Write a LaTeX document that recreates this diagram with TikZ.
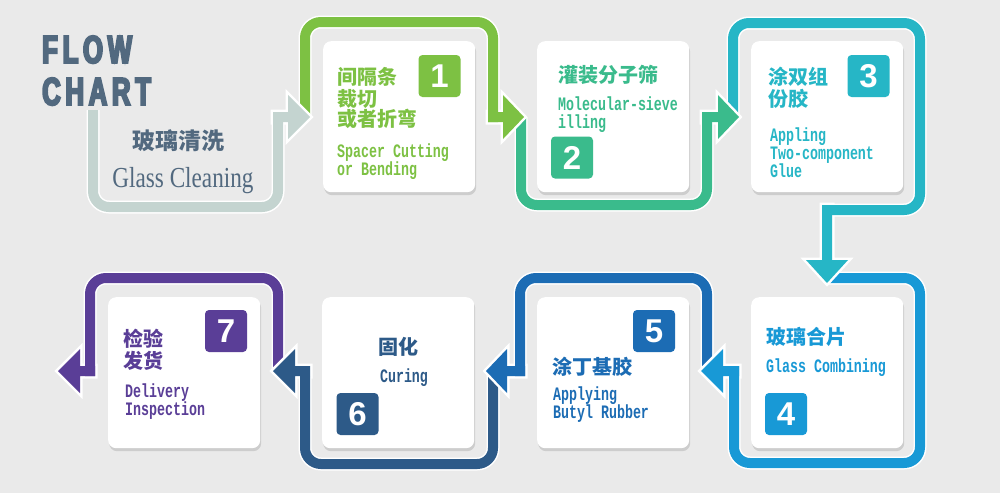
\documentclass[tikz,border=0pt]{standalone}
\usepackage{fontspec}
\setmainfont{Liberation Serif}
\newfontfamily\cjk{Noto Sans CJK SC}
\newfontfamily\monof{Liberation Mono Bold}[FakeStretch=0.7]
\newfontfamily\titlef{Liberation Sans Bold}[FakeStretch=0.66,FakeBold=5,LetterSpace=12]
\newfontfamily\gcf{Liberation Serif}[FakeStretch=0.8]
\newfontfamily\numf{Liberation Sans Bold}
\usetikzlibrary{shadows}
\definecolor{bgc}{HTML}{EAEAEA}
\definecolor{c0}{HTML}{C4D4D0}
\definecolor{c1}{HTML}{7DC143}
\definecolor{c2}{HTML}{3ABB8C}
\definecolor{c3}{HTML}{26B6C6}
\definecolor{c4}{HTML}{1899D6}
\definecolor{c5}{HTML}{1C6CB4}
\definecolor{c6}{HTML}{2D5A88}
\definecolor{c7}{HTML}{5A3E97}
\definecolor{slate}{HTML}{52697F}
\newcommand\cjkf{\cjk\bfseries\fontsize{20pt}{20pt}\selectfont}
\newcommand\enf{\monof\fontsize{19pt}{19pt}\selectfont}
\newcommand\flowline[3]{%
  \draw[white, line width=13pt, rounded corners=16pt] #2;
  \filldraw[white, line width=5pt, line join=miter] #3;
  \draw[#1, line width=10pt, rounded corners=16pt] #2;
  \fill[#1] #3;
}
\tikzset{
  card/.style={fill=white, rounded corners=8pt, minimum width=152pt, minimum height=151pt,
    anchor=north west, inner sep=0pt,
    drop shadow={shadow xshift=1pt, shadow yshift=-3pt, opacity=0.18, fill=black!70}},
  badge/.style={rounded corners=4pt, minimum size=42pt, inner sep=0pt, text=white,
    font=\numf\fontsize{33pt}{33pt}\selectfont},
  txt/.style={anchor=base west, inner sep=0pt},
  ttl/.style={anchor=base west, inner sep=0pt, text=slate, font=\titlef\fontsize{39pt}{39pt}\selectfont},
}
\begin{document}
\begin{tikzpicture}[x=1pt,y=-1pt]
\fill[bgc] (0,0) rectangle (1000,493);
\useasboundingbox (0,0) rectangle (1000,493);

% title
\node[ttl] (flow) at (42,63) {FLOW};
\node[ttl] (chart) at (42,105) {CHART};

% connector frames (drawn in reverse order)
\coordinate (s7) at (278,371);
\coordinate (s6) at (493,371);
\coordinate (s5) at (707,371);
\coordinate (s4) at (827,278);
\coordinate (s3) at (733,117);
\coordinate (s2) at (521,117);
\coordinate (s1) at (305,117);
\coordinate (s0) at (93,110);

\flowline{c7}{(s7) -- (278,278) -- (90,278) -- (90,376)}
  {(95,366) -- (80,366) -- (80,349) -- (58,371) -- (80,393) -- (80,376) -- (95,376) -- cycle}
\flowline{c6}{(s6) -- (493,464) -- (305,464) -- (305,376)}
  {(310,366) -- (295,366) -- (295,349) -- (273,371) -- (295,393) -- (295,376) -- (310,376) -- cycle}
\flowline{c5}{(s5) -- (707,278) -- (520,278) -- (520,376)}
  {(525,366) -- (507,366) -- (507,349) -- (486,371) -- (507,393) -- (507,376) -- (525,376) -- cycle}
\flowline{c4}{(s4) -- (920,278) -- (920,463) -- (734,463) -- (734,366)}
  {(739,366) -- (723,366) -- (723,349) -- (701,371) -- (723,393) -- (723,376) -- (739,376) -- cycle}
\flowline{c3}{(s3) -- (733,23) -- (920,23) -- (920,210) -- (822,210)}
  {(822,205) -- (832,205) -- (832,260) -- (848,260) -- (827,283) -- (806,260) -- (822,260) -- cycle}
\flowline{c2}{(s2) -- (521,205) -- (707,205) -- (707,112)}
  {(702,112) -- (718,112) -- (718,95) -- (739,117) -- (718,139) -- (718,122) -- (702,122) -- cycle}
\flowline{c1}{(s1) -- (305,22) -- (493,22) -- (493,122)}
  {(488,112) -- (503,112) -- (503,95) -- (524,117) -- (503,139) -- (503,122) -- (488,122) -- cycle}
\flowline{c0}{(s0) -- (93,207) -- (278,207) -- (278,112)}
  {(273,112) -- (288,112) -- (288,95) -- (310,117) -- (288,139) -- (288,122) -- (273,122) -- cycle}

% step 0
\node[anchor=base, inner sep=0pt, text=slate, font=\cjk\bfseries\fontsize{23pt}{23pt}\selectfont] (t0a) at (178,149) {玻璃清洗};
\node[anchor=base, inner sep=0pt, text=slate, font=\gcf\fontsize{29pt}{29pt}\selectfont] (t0b) at (183,187) {Glass Cleaning};

% cards
\node[card] (k1) at (323,41) {};
\node[card] (k2) at (537,41) {};
\node[card] (k3) at (751,41) {};
\node[card] (k4) at (751,297) {};
\node[card] (k5) at (537,297) {};
\node[card] (k6) at (322,297) {};
\node[card] (k7) at (108,297) {};

% badges
\node[badge, fill=c1] (b1) at (439.5,76) {1};
\node[badge, fill=c2] (b2) at (572,157.5) {2};
\node[badge, fill=c3] (b3) at (868.5,76) {3};
\node[badge, fill=c4] (b4) at (786,414) {4};
\node[badge, fill=c5] (b5) at (654,331) {5};
\node[badge, fill=c6] (b6) at (357.5,414) {6};
\node[badge, fill=c7] (b7) at (226,331) {7};

% card 1
\node[txt, text=c1, font=\cjkf] (t1a) at (337,84) {间隔条};
\node[txt, text=c1, font=\cjkf] (t1b) at (337,106) {裁切};
\node[txt, text=c1, font=\cjkf] (t1c) at (337,126) {或者折弯};
\node[txt, text=c1, font=\enf] (t1d) at (337,157) {Spacer Cutting};
\node[txt, text=c1, font=\enf] (t1e) at (337,175) {or Bending};
% card 2
\node[txt, text=c2, font=\cjkf] (t2a) at (558,82) {灌装分子筛};
\node[txt, text=c2, font=\enf] (t2b) at (558,110) {Molecular-sieve};
\node[txt, text=c2, font=\enf] (t2c) at (558,128) {illing};
% card 3
\node[txt, text=c3, font=\cjkf] (t3a) at (768,84) {涂双组};
\node[txt, text=c3, font=\cjkf] (t3b) at (768,106) {份胶};
\node[txt, text=c3, font=\enf] (t3c) at (770,141) {Appling};
\node[txt, text=c3, font=\enf] (t3d) at (770,159) {Two-component};
\node[txt, text=c3, font=\enf] (t3e) at (770,177) {Glue};
% card 4
\node[txt, text=c4, font=\cjkf] (t4a) at (766,344) {玻璃合片};
\node[txt, text=c4, font=\enf] (t4b) at (766,372) {Glass Combining};
% card 5
\node[txt, text=c5, font=\cjkf] (t5a) at (552,374) {涂丁基胶};
\node[txt, text=c5, font=\enf] (t5b) at (553,400) {Applying};
\node[txt, text=c5, font=\enf] (t5c) at (553,418) {Butyl Rubber};
% card 6
\node[anchor=base, inner sep=0pt, text=c6, font=\cjkf] (t6a) at (398,354) {固化};
\node[anchor=base, inner sep=0pt, text=c6, font=\enf] (t6b) at (404,382) {Curing};
% card 7
\node[txt, text=c7, font=\cjkf] (t7a) at (123,346) {检验};
\node[txt, text=c7, font=\cjkf] (t7b) at (123,368) {发货};
\node[txt, text=c7, font=\enf] (t7c) at (125,397) {Delivery};
\node[txt, text=c7, font=\enf] (t7d) at (125,415) {Inspection};
\end{tikzpicture}
\end{document}
